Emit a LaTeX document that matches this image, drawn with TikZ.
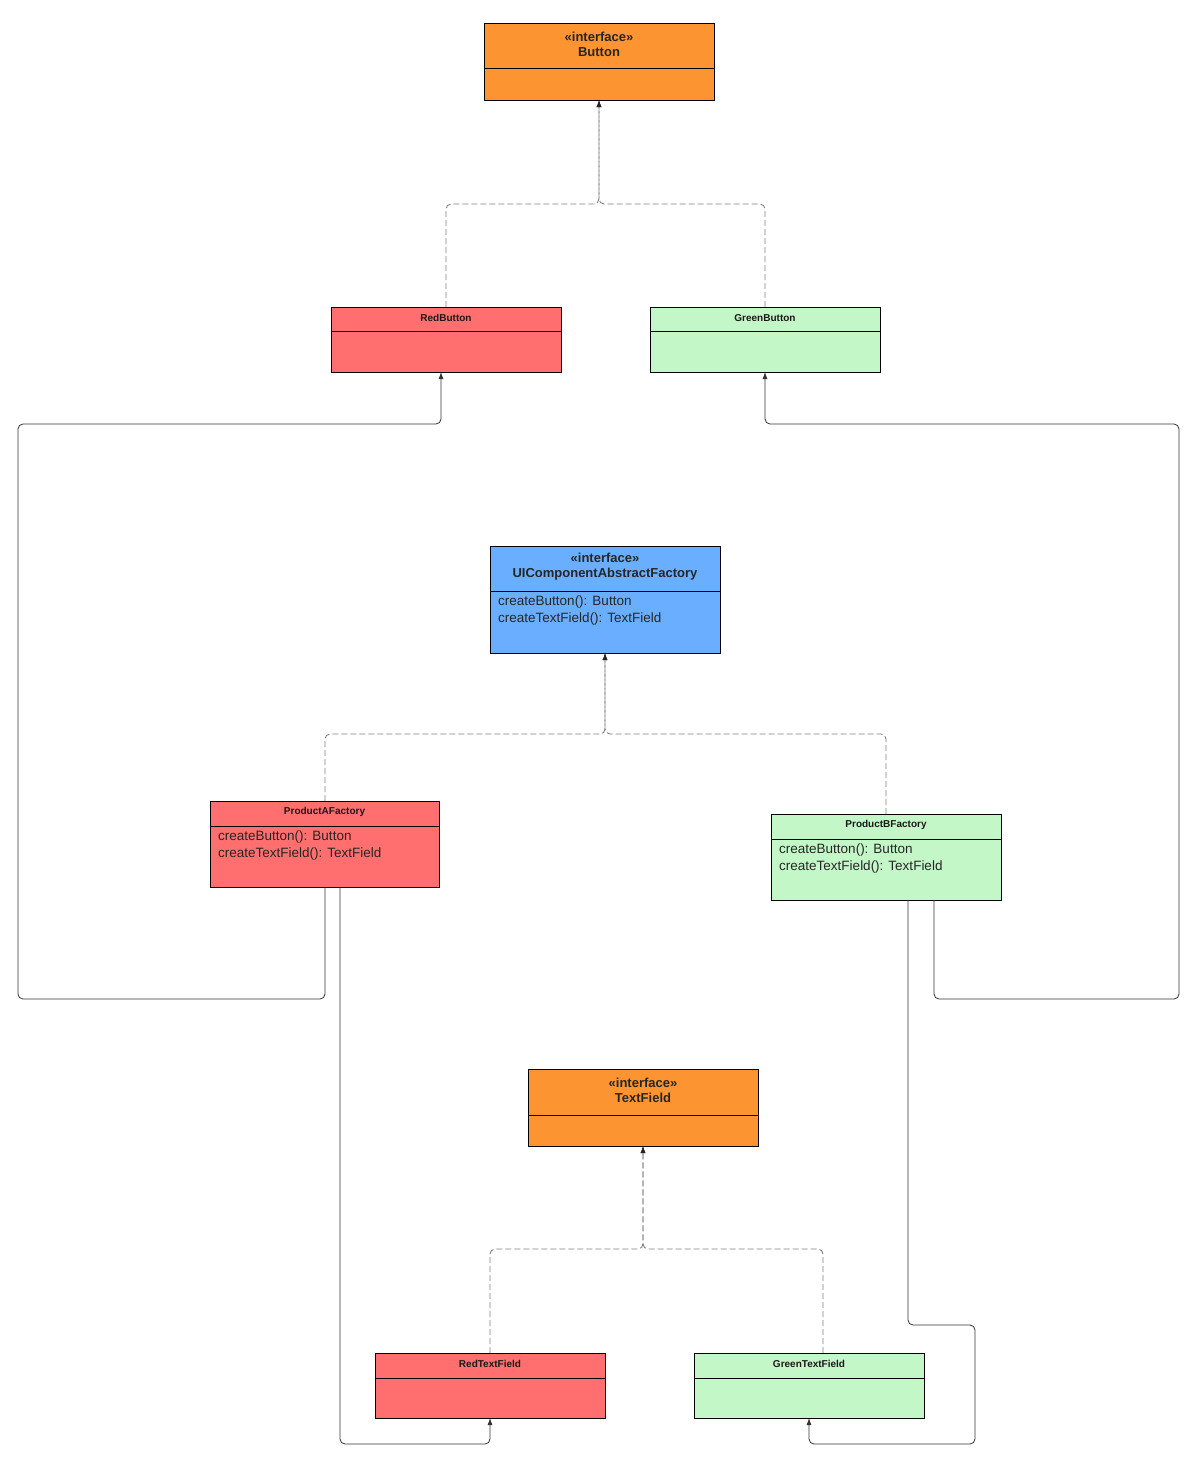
\documentclass[tikz,border=0pt]{standalone}
\usepackage{fontspec}
\setmainfont{Liberation Sans}
\usetikzlibrary{arrows.meta}
\definecolor{orng}{HTML}{FC9432}
\definecolor{rd}{HTML}{FF6F6F}
\definecolor{grn}{HTML}{C3F7C8}
\definecolor{blu}{HTML}{6AAFFF}
\newcommand{\umlbox}[7]{% name, x1, y1, x2, y2, ydiv, color
  \fill[#7] (#2,#3) rectangle (#4,#5);
  \draw[line width=0.9pt,black] (#2,#3) rectangle (#4,#5);
  \draw[line width=0.9pt,black] (#2,#6) -- (#4,#6);
  \coordinate (#1-tl) at (#2,#3);
}
\begin{document}
\begin{tikzpicture}[x=1pt,y=-1pt,
  dashconn/.style={draw=gray,line width=0.9pt,dash pattern=on 6pt off 3pt,rounded corners=5pt,-{Latex[length=7pt,width=5pt,color=black!85]}},
  solidconn/.style={draw=black!80,line width=0.8pt,rounded corners=5pt,-{Latex[length=7pt,width=5pt]}},
  ttl/.style={font=\bfseries\fontsize{13}{15}\selectfont,align=center,text=black!85},
  sttl/.style={font=\bfseries\fontsize{10}{12}\selectfont,text=black!90},
  meth/.style={font=\fontsize{13.5}{17}\selectfont,align=left,anchor=north west,text=black!85,inner sep=0pt}]
\useasboundingbox (0,0) rectangle (1200,1464);
\fill[white] (0,0) rectangle (1200,1464);
% boxes
\umlbox{btn}{484}{23}{714}{100}{68}{orng}
\node[ttl] (btnT) at (599,44) {<<interface>>\\Button};
\umlbox{rb}{331}{307}{561}{372}{331}{rd}
\node[sttl] (rbT) at (446,318) {RedButton};
\umlbox{gb}{650}{307}{880}{372}{331}{grn}
\node[sttl] (gbT) at (765,318) {GreenButton};
\umlbox{uf}{490}{546}{720}{653}{591}{blu}
\node[ttl] (ufT) at (605,567) {<<interface>>\\UIComponentAbstractFactory};
\node[meth] (ufM) at (498,596) {createButton(): Button\\createTextField(): TextField};
\umlbox{pa}{210}{801}{439}{887}{826}{rd}
\node[sttl] (paT) at (324.5,812) {ProductAFactory};
\node[meth] (paM) at (218,831) {createButton(): Button\\createTextField(): TextField};
\umlbox{pb}{771}{814}{1001}{900}{839}{grn}
\node[sttl] (pbT) at (886,825) {ProductBFactory};
\node[meth] (pbM) at (779,844) {createButton(): Button\\createTextField(): TextField};
\umlbox{tf}{528}{1069}{758}{1146}{1115}{orng}
\node[ttl] (tfT) at (643,1090) {<<interface>>\\TextField};
\umlbox{rt}{375}{1353}{605}{1418}{1378}{rd}
\node[sttl] (rtT) at (490,1364) {RedTextField};
\umlbox{gt}{694}{1353}{924}{1418}{1378}{grn}
\node[sttl] (gtT) at (809,1364) {GreenTextField};
% dashed realizations
\coordinate (b1) at (446,307); \coordinate (b2) at (765,307); \coordinate (bt) at (599,100);
\draw[dashconn] (b1) -- (446,204) -- (599,204) -- (bt);
\draw[dashconn] (b2) -- (765,204) -- (599,204) -- (bt);
\coordinate (f1) at (325,801); \coordinate (f2) at (886,814); \coordinate (ft) at (605,653);
\draw[dashconn] (f1) -- (325,734) -- (605,734) -- (ft);
\draw[dashconn] (f2) -- (886,734) -- (605,734) -- (ft);
\coordinate (t1) at (490,1353); \coordinate (t2) at (823,1353); \coordinate (tt) at (643,1146);
\draw[dashconn] (t1) -- (490,1249) -- (643,1249) -- (tt);
\draw[dashconn] (t2) -- (823,1249) -- (643,1249) -- (tt);
% solid dependencies
\coordinate (a1) at (325,887); \coordinate (a2) at (340,887);
\coordinate (c1) at (934,900); \coordinate (c2) at (908,900);
\coordinate (rbb) at (441,372); \coordinate (gbb) at (765,372);
\coordinate (rtb) at (490,1418); \coordinate (gtb) at (809,1418);
\draw[solidconn] (a1) -- (325,999) -- (18,999) -- (18,424) -- (441,424) -- (rbb);
\draw[solidconn] (a2) -- (340,1444) -- (490,1444) -- (rtb);
\draw[solidconn] (c1) -- (934,999) -- (1179,999) -- (1179,424) -- (765,424) -- (gbb);
\draw[solidconn] (c2) -- (908,1325) -- (975,1325) -- (975,1444) -- (809,1444) -- (gtb);
\end{tikzpicture}
\end{document}
